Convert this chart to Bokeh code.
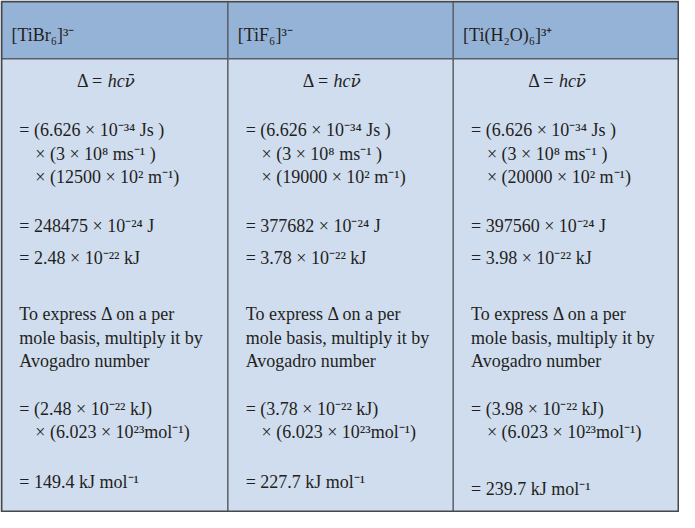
from bokeh.plotting import figure
from bokeh.models import Range1d, ColumnDataSource
from bokeh.embed import file_html
from bokeh.resources import INLINE
from bokeh.core.properties import value

# ---- data ----
complexes = ["[TiBr₆]³⁻", "[TiF₆]³⁻", "[Ti(H₂O)₆]³⁺"]
wavenumbers = ["12500", "19000", "20000"]      # x 10^2 m^-1
energy_J = ["248475", "377682", "397560"]      # x 10^-24 J
energy_kJ = ["2.48", "3.78", "3.98"]           # x 10^-22 kJ
molar_kJ = ["149.4", "227.7", "239.7"]         # kJ mol^-1
planck = "6.626"
light = "3"
avogadro = "6.023"
note_lines = ["To express Δ on a per", "mole basis, multiply it by", "Avogadro number"]

# ---- layout (page pixel coordinates) ----
col_edges = [5, 233, 460, 687]
top, head_bottom, bottom = 8, 66, 524
final_y = [494, 494, 501]

SUP = str.maketrans("0123456789-+", "⁰¹²³⁴⁵⁶⁷⁸⁹⁻⁺")
def sup(s):
    return s.translate(SUP)

p = figure(width=679, height=512, x_range=Range1d(4, 688), y_range=Range1d(525, 7),
           output_backend="svg", toolbar_location=None, min_border=0)
p.axis.visible = False
p.grid.visible = False
p.outline_line_color = None
p.background_fill_color = "white"
p.border_fill_color = "white"

lefts = col_edges[:-1]
rights = col_edges[1:]
p.quad(left=lefts, right=rights, top=[top] * 3, bottom=[head_bottom] * 3,
       fill_color="#95B3D7", line_color=None)
p.quad(left=lefts, right=rights, top=[head_bottom] * 3, bottom=[bottom] * 3,
       fill_color="#D0DDEF", line_color=None)

# grid lines
p.segment(x0=[col_edges[1], col_edges[2], col_edges[0]],
          y0=[top, top, head_bottom],
          x1=[col_edges[1], col_edges[2], col_edges[3]],
          y1=[bottom, bottom, head_bottom],
          line_color="#5a5e66", line_width=1.5)
# outer border
p.quad(left=[col_edges[0]], right=[col_edges[3]], top=[top], bottom=[bottom],
       fill_color=None, line_color="#45484f", line_width=2)

xs, ys, texts = [], [], []
for i in range(3):
    L = col_edges[i]
    eqx = L + 18
    mx = L + 34
    rows = [
        (138, eqx, f"= ({planck} × 10{sup('-34')} Js )"),
        (162, mx, f"× ({light} × 10{sup('8')} ms{sup('-1')} )"),
        (186, mx, f"× ({wavenumbers[i]} × 10{sup('2')} m{sup('-1')})"),
        (235, eqx, f"= {energy_J[i]} × 10{sup('-24')} J"),
        (268, eqx, f"= {energy_kJ[i]} × 10{sup('-22')} kJ"),
        (324, eqx, note_lines[0]),
        (348, eqx, note_lines[1]),
        (372, eqx, note_lines[2]),
        (420, eqx, f"= ({energy_kJ[i]} × 10{sup('-22')} kJ)"),
        (444, mx, f"× ({avogadro} × 10{sup('23')}mol{sup('-1')})"),
        (final_y[i], eqx, f"= {molar_kJ[i]} kJ mol{sup('-1')}"),
    ]
    for y, x, t in rows:
        xs.append(x); ys.append(y); texts.append(t)

font = value("Liberation Serif")
src = ColumnDataSource(dict(x=xs, y=ys, text=texts))
p.text(x="x", y="y", text="text", source=src, text_font=font, text_font_size="18px",
       text_baseline="alphabetic", text_align="left", text_color="#231F20")

# headers
p.text(x=[e + 10 for e in lefts], y=[42] * 3, text=complexes, text_font=font,
       text_font_size="18px", text_baseline="alphabetic", text_align="left",
       text_color="#231F20")

# delta = h c nu-bar
centers = [(a + b) / 2 - 7 for a, b in zip(lefts, rights)]
p.text(x=centers, y=[88] * 3, text=["Δ = "] * 3, text_font=font, text_font_size="18px",
       text_baseline="alphabetic", text_align="right", text_color="#231F20")
p.text(x=centers, y=[88] * 3, text=["hc"] * 3, text_font=font, text_font_size="18px",
       text_font_style="italic", text_baseline="alphabetic", text_align="left",
       text_color="#231F20")
p.text(x=[c + 17 for c in centers], y=[88] * 3, text=["ν̄"] * 3,
       text_font=value("DejaVu Serif"), text_font_size="17px",
       text_font_style="italic", text_baseline="alphabetic", text_align="left",
       text_color="#231F20")

open("out.html", "w").write(file_html(p, INLINE))
